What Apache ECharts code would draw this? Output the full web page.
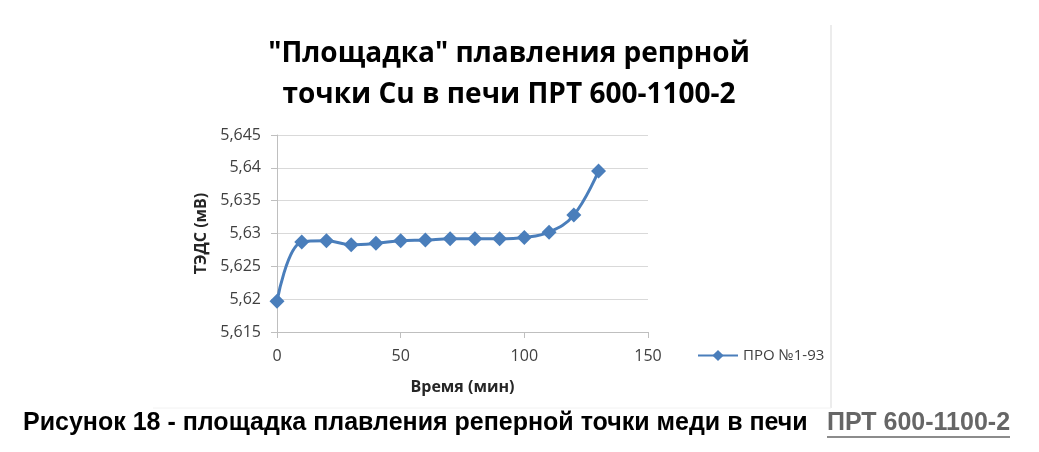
<!DOCTYPE html>
<html>
<head>
    <meta charset="UTF-8"/>
    <title>Площадка плавления</title>
    <script type="text/javascript" src="https://cdn.jsdelivr.net/npm/echarts@6/dist/echarts.min.js"></script>
    <style>
        html, body { margin: 0; padding: 0; background: #fff; }
        #main { width: 1039px; height: 452px; }
    </style>
</head>
<body>
<div id="main"></div>

<script type="text/javascript">
    // данные графика
    var timeMin = [0, 10, 20, 30, 40, 50, 60, 70, 80, 90, 100, 110, 120, 130];
    var tedsMv = [5.6197, 5.6287, 5.6289, 5.6283, 5.6285, 5.6289, 5.6290, 5.6292, 5.6292, 5.6292, 5.6294, 5.6302, 5.6328, 5.6395];
    var seriesName = 'ПРО №1-93';
    var titleLines = ['"Площадка" плавления репрной', 'точки Cu в печи ПРТ 600-1100-2'];
    var captionText = 'Рисунок 18 - площадка плавления реперной точки меди в печи';
    var captionLink = 'ПРТ 600-1100-2';

    var points = timeMin.map(function (t, i) { return [t, tedsMv[i]]; });

    var myChart = echarts.init(document.getElementById('main'));

    var option = {
        animation: false,
        title: {
            text: titleLines.join('\n'),
            left: 504,
            top: 29,
            textAlign: 'center',
            textStyle: {
                fontFamily: 'Open Sans',
                fontWeight: 'bold',
                fontSize: 28,
                lineHeight: 41,
                color: '#000'
            }
        },
        legend: {
            data: [seriesName],
            left: 692,
            top: 343,
            itemWidth: 40,
            itemHeight: 14,
            textStyle: { fontFamily: 'Open Sans', fontSize: 15, color: '#404040' }
        },
        grid: { left: 277, right: 391, top: 135, bottom: 120 },
        xAxis: {
            type: 'value',
            min: 0,
            max: 150,
            interval: 50,
            name: 'Время (мин)',
            nameLocation: 'middle',
            nameGap: 47,
            nameTextStyle: { fontFamily: 'Open Sans', fontWeight: 'bold', fontSize: 16, color: '#262626' },
            axisLine: { lineStyle: { color: '#bfbfbf' } },
            axisTick: { show: true, length: 6, lineStyle: { color: '#bfbfbf' } },
            axisLabel: { fontFamily: 'Open Sans', fontSize: 16, color: '#404040', margin: 16 },
            splitLine: { show: false }
        },
        yAxis: {
            type: 'value',
            min: 5.615,
            max: 5.645,
            interval: 0.005,
            name: 'ТЭДС (мВ)',
            nameLocation: 'middle',
            nameGap: 68,
            nameTextStyle: { fontFamily: 'Open Sans', fontWeight: 'bold', fontSize: 16, color: '#262626' },
            axisLine: { show: true, lineStyle: { color: '#bfbfbf' } },
            axisTick: { show: true, length: 6, lineStyle: { color: '#bfbfbf' } },
            axisLabel: {
                fontFamily: 'Open Sans', fontSize: 16, color: '#404040', margin: 16,
                formatter: function (v) { return String(parseFloat(v.toFixed(3))).replace('.', ','); }
            },
            splitLine: { lineStyle: { color: '#d9d9d9' } }
        },
        series: [{
            name: seriesName,
            type: 'line',
            smooth: 0.4,
            data: points,
            symbol: 'diamond',
            symbolSize: 15,
            itemStyle: { color: '#4a7ebb' },
            lineStyle: { color: '#4a7ebb', width: 3 }
        }],
        graphic: [
            // рамка области диаграммы
            { type: 'line', shape: { x1: 831, y1: 25, x2: 831, y2: 408 }, style: { stroke: '#d9d9d9', lineWidth: 1 } },
            { type: 'line', shape: { x1: 153, y1: 408, x2: 831, y2: 408 }, style: { stroke: '#f2f2f2', lineWidth: 1 } },
            {
                type: 'text', left: 23, top: 411,
                style: { text: captionText, font: 'bold 25px "Liberation Sans", Arial', fill: '#000' }
            },
            {
                type: 'text', left: 827, top: 411,
                style: { text: captionLink, font: 'bold 25px "Liberation Sans", Arial', fill: '#666' }
            },
            { type: 'line', shape: { x1: 827, y1: 437, x2: 1010, y2: 437 }, style: { stroke: '#666', lineWidth: 1.5 } }
        ]
    };

    myChart.setOption(option);
</script>
</body>
</html>
